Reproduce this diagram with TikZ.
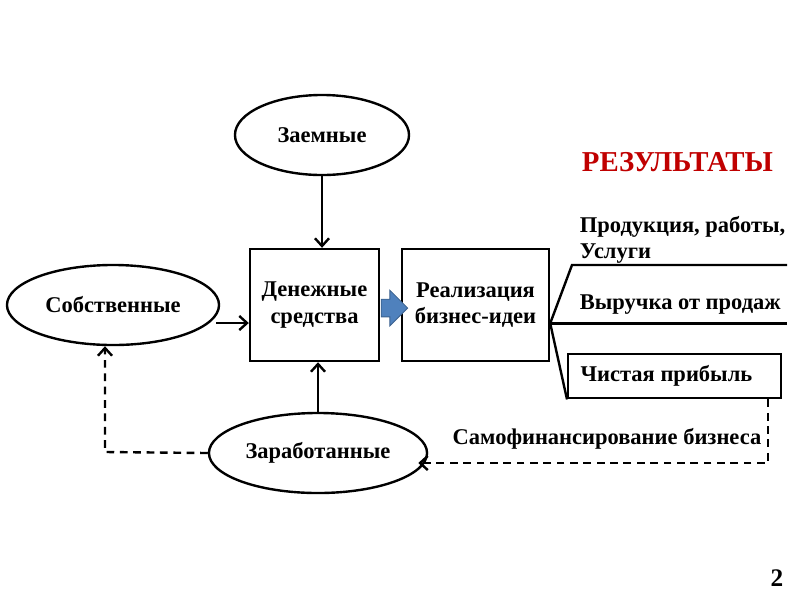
\documentclass[tikz,border=0pt]{standalone}
\usepackage{fontspec}
\setmainfont{Liberation Serif}
\usetikzlibrary{arrows.meta,shapes.geometric,shapes.arrows,calc}

\definecolor{resred}{RGB}{192,0,0}
\definecolor{flowblue}{RGB}{79,129,189}

\begin{document}
\begin{tikzpicture}[
  x=0.025cm, y=-0.025cm,
  line width=1.7pt,
  >={Straight Barb[length=5.5pt,width=10pt]},
  txt/.style={font=\bfseries\fontsize{16}{19}\selectfont},
  oval/.style={ellipse, draw, txt, line width=1.7pt},
  box/.style={rectangle, draw, txt, align=center, line width=1.7pt},
  loopdash/.style={dash pattern=on 5.5pt off 4pt}
]
  \useasboundingbox (0,0) rectangle (800,600);

  % sources of money
  \node[oval, minimum width=4.35cm, minimum height=2cm] (zaem) at (322,135) {Заемные};
  \node[oval, minimum width=5.3cm, minimum height=2cm] (sob) at (113,305) {Собственные};
  \node[oval, minimum width=5.4cm, minimum height=2cm] (earn) at (318,453) {Заработанные};

  % main boxes
  \node[box, minimum width=3.225cm, minimum height=2.8cm] (money) at (314.5,305) {Денежные\\средства};
  \node[box, minimum width=3.675cm, minimum height=2.8cm] (real) at (475.5,305) {Реализация\\бизнес-идеи};
  \node[single arrow, fill=flowblue, draw=flowblue!75!black, line width=0.6pt,
        minimum width=0.875cm, minimum height=0.65cm, inner sep=0.21cm,
        single arrow head extend=0.225cm] (flow) at (390,308) {};

  \draw[->] (zaem.south) -- (zaem.south |- money.north);
  \draw[->] ($(sob.east)+(-4,18)$) -- ($(money.west)+(0,18)$);
  \draw[->] (earn.north) -- (earn.north |- money.south);

  % results
  \node[font=\bfseries\fontsize{20.5}{24}\selectfont, text=resred, anchor=west] (head) at (576,162) {РЕЗУЛЬТАТЫ};
  \node[txt, anchor=west, align=left] (prod) at (574,240) {\spaceskip=0pt Продукция, работы,\\Услуги};
  \node[txt, anchor=west] (rev) at (574,305) {Выручка от продаж};
  \node[box, anchor=north west, minimum width=5.325cm, minimum height=1.1cm,
        text width=4.7cm, align=left, inner xsep=0.3cm] (profit) at (567,353) {\spaceskip=0pt Чистая прибыль};

  \coordinate (fan) at ($(real.south east)!0.34!(real.north east)$);
  \coordinate (edge) at (787,0);
  \draw (fan) -- (572,265) -- (787,265);
  \draw (fan) -- (fan -| edge);
  \draw (fan) -- (profit.south west);

  % self-financing loop
  \coordinate (loopL) at (105,452);
  \coordinate (loopR) at (768,463);
  \draw[loopdash, ->] (earn.west) -- (loopL) -- (loopL |- sob.south);
  \draw[loopdash, ->] (loopR |- profit.south) -- (loopR) -- ($(earn.east)+(-10,10)$);
  \node[txt] (selffin) at (607,439) {Самофинансирование бизнеса};

  \node[font=\bfseries\fontsize{18}{20}\selectfont] (page) at (777,578) {2};
\end{tikzpicture}
\end{document}
